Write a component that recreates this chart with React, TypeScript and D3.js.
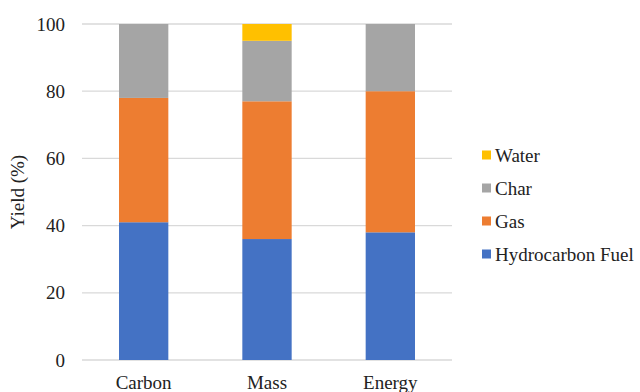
import React from "react";
import * as d3 from "d3";

const categories = ["Carbon", "Mass", "Energy"];
const seriesNames = ["Hydrocarbon Fuel", "Gas", "Char", "Water"];
const hydrocarbonFuel = [41, 36, 38];
const gas = [37, 41, 42];
const char = [22, 18, 20];
const water = [0, 5, 0];
const yTicks = [0, 20, 40, 60, 80, 100];
const colors = ["#4472C4", "#ED7D31", "#A5A5A5", "#FFC000"];

const FONT = "Liberation Serif";

export default function App() {
  const W = 640, H = 392;
  const left = 82, right = 452, top = 24, bottom = 360;
  const x = d3.scaleBand<string>().domain(categories).range([left, right]).paddingInner(0.6).paddingOuter(0.3);
  const y = d3.scaleLinear().domain([0, 100]).range([bottom, top]);
  const rows = categories.map((c, i) => ({
    cat: c,
    "Hydrocarbon Fuel": hydrocarbonFuel[i],
    Gas: gas[i],
    Char: char[i],
    Water: water[i],
  }));
  const stack = d3.stack<any>().keys(seriesNames)(rows);
  const legendOrder = [3, 2, 1, 0];
  return (
    <svg width={W} height={H} fontFamily={FONT} style={{ position: "absolute", left: 0, top: 0, background: "#fff", fontFamily: FONT }}>
      {yTicks.map((t) => (
        <line key={"g" + t} x1={left} x2={right} y1={y(t)} y2={y(t)} stroke="#D9D9D9" strokeWidth={1.3} />
      ))}
      {yTicks.map((t) => (
        <text key={"t" + t} x={65} y={y(t) + 6.5} textAnchor="end" fontFamily={FONT} fontSize={19} fill="#222">{t}</text>
      ))}
      {stack.map((s, si) => (
        <g key={s.key} fill={colors[si]}>
          {s.map((d, i) =>
            d[1] - d[0] > 0 ? (
              <rect key={i} x={x(categories[i])} width={x.bandwidth()} y={y(d[1])} height={y(d[0]) - y(d[1])} />
            ) : null
          )}
        </g>
      ))}
      {categories.map((c) => (
        <text key={c} x={(x(c) as number) + x.bandwidth() / 2} y={389} textAnchor="middle" fontFamily={FONT} fontSize={19} fill="#222">{c}</text>
      ))}
      <text transform={`translate(24,${(top + bottom) / 2}) rotate(-90)`} textAnchor="middle" fontFamily={FONT} fontSize={19} fill="#222">Yield (%)</text>
      {legendOrder.map((si, k) => {
        const ly = 155 + k * 33;
        return (
          <g key={si}>
            <rect x={482} y={ly - 4.5} width={9} height={9} fill={colors[si]} />
            <text x={495} y={ly + 6.5} fontFamily={FONT} fontSize={19} fill="#222">{seriesNames[si]}</text>
          </g>
        );
      })}
    </svg>
  );
}
